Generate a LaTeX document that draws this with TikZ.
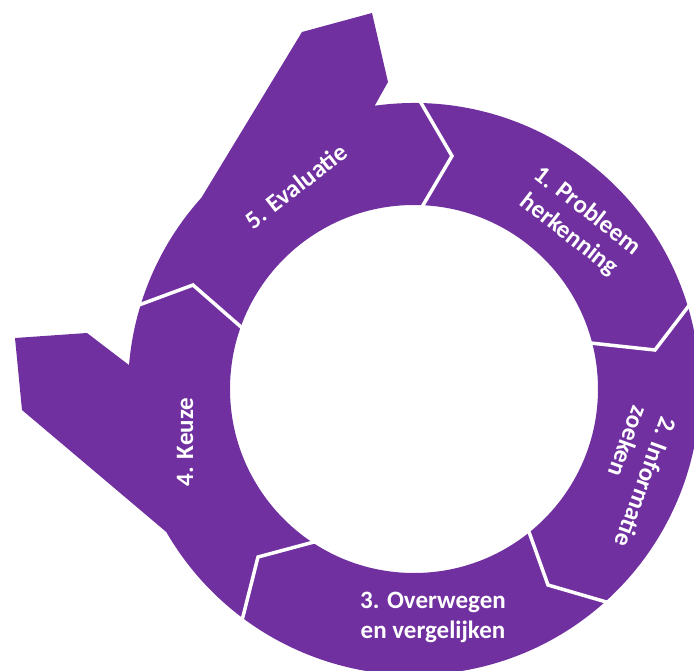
\documentclass[tikz,border=0pt]{standalone}
\usepackage{fontspec}
\setmainfont{Carlito}
\definecolor{cyclepurple}{HTML}{7030A0}
\begin{document}
\begin{tikzpicture}[x=1pt,y=1pt,
  ring/.style={fill=cyclepurple, even odd rule},
  cut/.style={draw=white, line width=3.5pt, line join=miter},
  steplabel/.style={text=white, font=\bfseries\fontsize{25}{30}\selectfont, align=center, inner sep=0pt}]
\useasboundingbox (-414,-281) rectangle (280,389);
\clip (-414,-281) rectangle (280,389);
% ring with the two outward flaps and the central hole
\fill[ring] (97.9:286) arc[start angle=97.9, end angle=-150, radius=286]
  -- (-392,-21) -- (-399,51) -- (-327,56) -- (175.2:286)
  arc[start angle=175.2, end angle=138, radius=286]
  -- (-112,357) -- (-42,376) -- (-26,307) -- cycle
  (0,0) circle[radius=184];
% chevron cuts between the phases
\draw[cut] (90.2:300) -- (38,233) -- (89.7:170);
\draw[cut] (18.6:300) -- (241,39) -- (16.2:170);
\draw[cut] (-46.4:300) -- (134,-196) -- (-49.6:170);
\draw[cut] (234.3:300) -- (-156,-168) -- (240.8:170);
\draw[cut] (164.8:300) -- (-221,104) -- (162.1:170);
% phase labels
\node[steplabel, rotate=-38] (t1) at (164,166) {1. Probleem\\herkenning};
\node[steplabel, rotate=-110, align=left] (t2) at (218,-88) {2. Informatie\\zoeken};
\node[steplabel] (t3) at (19,-228) {3. Overwegen\\en vergelijken};
\node[steplabel, rotate=90] (t4) at (-229,-53) {4. Keuze};
\node[steplabel, rotate=38] (t5) at (-118,203) {5. Evaluatie};
\end{tikzpicture}
\end{document}
